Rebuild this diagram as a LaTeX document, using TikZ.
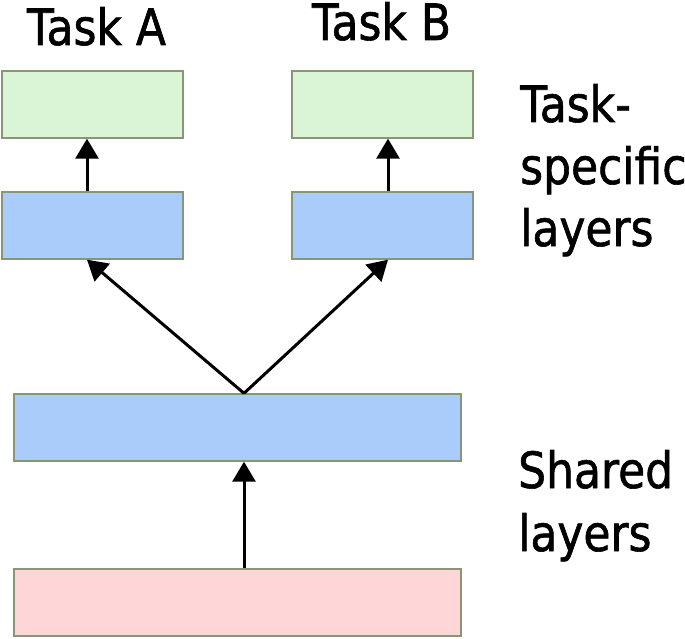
\documentclass[tikz,border=0pt]{standalone}
\usepackage{fontspec}
\setmainfont{DejaVu Sans}[FakeStretch=0.88,FakeBold=1.2]
\usetikzlibrary{arrows.meta}
\definecolor{gfill}{RGB}{218,244,214}
\definecolor{bfill}{RGB}{170,204,250}
\definecolor{pfill}{RGB}{255,214,216}
\definecolor{edgec}{RGB}{138,148,118}
\tikzset{
  layer/.style={draw=edgec, line width=1.4pt, minimum height=67pt, inner sep=0pt},
  small/.style={layer, minimum width=181pt},
  wide/.style={layer, minimum width=447pt},
  arr/.style={line width=3pt, -{Triangle[length=20pt,width=23pt]}},
  lbl/.style={font=\fontsize{50}{60}\selectfont, inner sep=0pt}
}
\begin{document}
\begin{tikzpicture}[x=1pt,y=-1pt]
\useasboundingbox (0,0) rectangle (685,639);
\node[small, fill=gfill] (gA) at (92.5,104.5) {};
\node[small, fill=bfill] (bA) at (92.5,225.5) {};
\node[small, fill=gfill] (gB) at (382.5,104.5) {};
\node[small, fill=bfill] (bB) at (382.5,225.5) {};
\node[wide, fill=bfill] (sh) at (237.5,427.5) {};
\node[wide, fill=pfill] (inp) at (237.5,602.5) {};
\draw[arr] ([xshift=-5.5pt]bA.north) -- ([xshift=-5.5pt]gA.south);
\draw[arr] ([xshift=5.5pt]bB.north) -- ([xshift=5.5pt]gB.south);
\draw[arr] ([xshift=6.5pt]sh.north) -- ([xshift=-5.5pt]bA.south);
\draw[arr] ([xshift=6.5pt]sh.north) -- ([xshift=5.5pt]bB.south);
\draw[arr] ([xshift=6.5pt]inp.north) -- ([xshift=6.5pt]sh.south);
\node[lbl, anchor=base] (tA) at (96.5,45) {Task A};
\node[lbl, anchor=base] (tB) at (381.5,40) {Task B};
\node[lbl, anchor=base west] (ts1) at (520,122) {Task-};
\node[lbl, anchor=base west] (ts2) at (520,184) {specific};
\node[lbl, anchor=base west] (ts3) at (520,246) {layers};
\node[lbl, anchor=base west] (sl1) at (518,488) {Shared};
\node[lbl, anchor=base west] (sl2) at (518,551) {layers};
\end{tikzpicture}
\end{document}
